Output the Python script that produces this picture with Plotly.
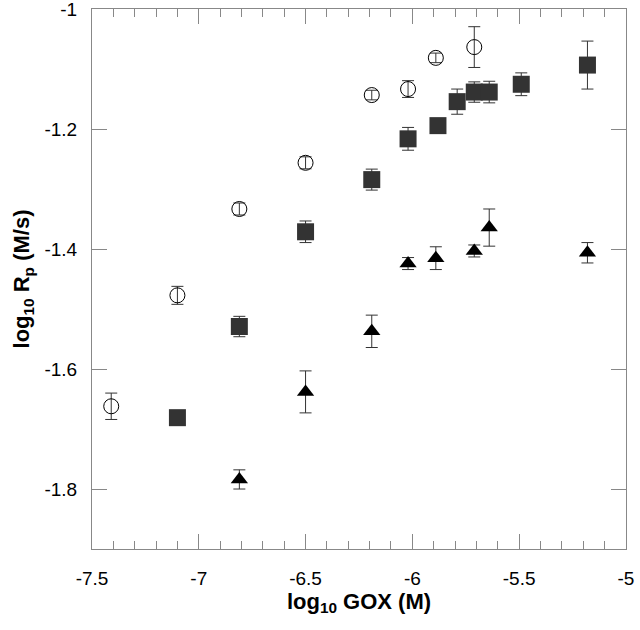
import plotly.graph_objects as go

# Open circles
x_circles = [-7.41, -7.10, -6.81, -6.50, -6.19, -6.02, -5.89, -5.71]
y_circles = [-1.662, -1.477, -1.333, -1.256, -1.143, -1.133, -1.081, -1.063]
err_circles = [0.022, 0.015, 0.010, 0.010, 0.008, 0.014, 0.008, 0.034]

# Filled squares
x_squares = [-7.10, -6.81, -6.50, -6.19, -6.02, -5.88, -5.79, -5.71, -5.64, -5.49, -5.18]
y_squares = [-1.681, -1.529, -1.371, -1.284, -1.216, -1.194, -1.154, -1.138, -1.138, -1.125, -1.093]
err_squares = [0.005, 0.017, 0.018, 0.0175, 0.019, 0.005, 0.021, 0.017, 0.018, 0.019, 0.040]

# Filled triangles
x_tri = [-6.81, -6.50, -6.19, -6.02, -5.89, -5.71, -5.64, -5.18]
y_tri = [-1.784, -1.638, -1.537, -1.424, -1.415, -1.403, -1.364, -1.406]
err_tri = [0.016, 0.035, 0.027, 0.010, 0.019, 0.010, 0.031, 0.017]

x_tickvals = [-7.5, -7, -6.5, -6, -5.5, -5]
x_ticktext = ["-7.5", "-7", "-6.5", "-6", "-5.5", "-5"]
y_tickvals = [-1, -1.2, -1.4, -1.6, -1.8]
y_ticktext = ["-1", "-1.2", "-1.4", "-1.6", "-1.8"]

FONT = "Liberation Sans, Arial, Helvetica, sans-serif"
ERR = dict(type="data", thickness=1, width=6, color="#333333")

fig = go.Figure()
fig.add_trace(go.Scatter(
    x=x_squares, y=y_squares, mode="markers",
    marker=dict(symbol="square", size=17, color="#333333", line=dict(width=0)),
    error_y=dict(array=err_squares, **ERR), showlegend=False))
fig.add_trace(go.Scatter(
    x=x_tri, y=y_tri, mode="markers",
    marker=dict(symbol="triangle-up", size=15, color="#000000", line=dict(width=0)),
    error_y=dict(array=err_tri, **ERR), showlegend=False))
fig.add_trace(go.Scatter(
    x=x_circles, y=y_circles, mode="markers",
    marker=dict(symbol="circle-open", size=15, color="#000000", line=dict(width=1, color="#000000")),
    error_y=dict(array=err_circles, **ERR), showlegend=False))

axis_common = dict(
    showgrid=False, zeroline=False, showline=True, linecolor="#888888", linewidth=1,
    mirror="allticks", ticks="inside", tickcolor="#888888", tickwidth=1, ticklen=15,
    tickfont=dict(family=FONT, size=19, color="#000000"), automargin=False,
)

fig.update_xaxes(
    range=[-7.5, -4.9995], tickvals=x_tickvals, ticktext=x_ticktext,
    minor=dict(ticks="inside", dtick=0.1, tick0=-7.5, ticklen=8, tickcolor="#888888", tickwidth=1),
    title=dict(text="log<sub>10</sub> GOX (M)", font=dict(family=FONT, size=22, color="#000000", weight="bold"), standoff=0),
    ticklabelstandoff=12, ticklabeloverflow="allow",
    **axis_common)
fig.update_yaxes(
    range=[-1.9, -0.9995], tickvals=y_tickvals, ticktext=y_ticktext,
    title=dict(text="log<sub>10</sub> R<sub>p</sub> (M/s)", font=dict(family=FONT, size=22, color="#000000", weight="bold"), standoff=8),
    ticklabelstandoff=10, ticklabeloverflow="allow",
    **axis_common)

fig.update_layout(
    width=640, height=630,
    margin=dict(l=92, r=14, t=9, b=81),
    paper_bgcolor="white", plot_bgcolor="white",
    font=dict(family=FONT, color="#000000"),
)

fig.write_html("out.html", config={"displayModeBar": False},
               post_script="document.body.style.margin='0';document.body.style.padding='0';")
